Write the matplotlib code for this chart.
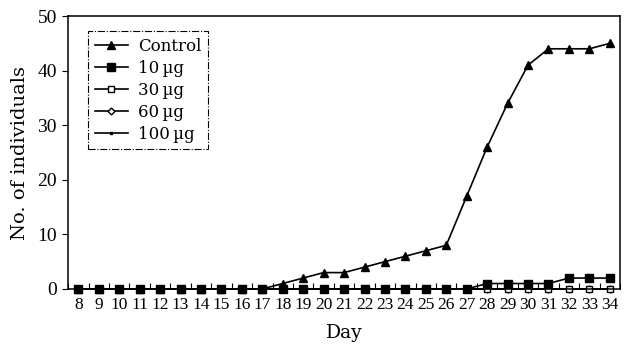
import numpy as np
import matplotlib
matplotlib.use('Agg')
import matplotlib.pyplot as plt

plt.rcParams['font.family'] = ['Liberation Serif', 'DejaVu Serif']

# dados
days = list(range(8, 35))
control = [0, 0, 0, 0, 0, 0, 0, 0, 0, 0, 1, 2, 3, 3, 4, 5, 6, 7, 8,
           17, 26, 34, 41, 44, 44, 44, 45]
ug10 = [0] * 20 + [1, 1, 1, 1, 2, 2, 2]
ug30 = [0] * 27
ug60 = [0] * 27
ug100 = [0] * 27

fig = plt.figure(figsize=(6.25, 3.49), dpi=100)
ax = fig.add_axes([0.109, 0.172, 0.883, 0.782])

kw = dict(color='black', linewidth=1.2, clip_on=False)
ax.plot(days, ug100, marker='s', markersize=2, label='100\u2009µg', **kw)
ax.plot(days, ug60, marker='D', markersize=3.5, markerfacecolor='white', label='60\u2009µg', **kw)
ax.plot(days, ug30, marker='s', markersize=4.5, markerfacecolor='white', label='30\u2009µg', **kw)
ax.plot(days, control, marker='^', markersize=6, label='Control', **kw)
ax.plot(days, ug10, marker='s', markersize=5.5, label='10\u2009µg', **kw)

ax.set_xlim(7.5, 34.5)
ax.set_ylim(0, 50)
ax.set_xticks(days)
ax.set_xticklabels([str(d) for d in days], fontsize=12.5)
ax.set_xticks(np.arange(7.5, 35, 1), minor=True)
ax.tick_params(axis='x', which='major', length=0, pad=6)
ax.tick_params(axis='x', which='minor', direction='in', length=4, width=0.8)
ax.set_yticks([0, 10, 20, 30, 40, 50])
ax.tick_params(axis='y', labelsize=14, length=4, width=0.8, pad=4)

serif = ['DejaVu Serif']
ax.set_xlabel('Day', fontsize=13.5, family=serif, labelpad=8)
ax.set_ylabel('No. of individuals', fontsize=14, family=serif, labelpad=6)

for s in ax.spines.values():
    s.set_linewidth(1.1)

# ordem da legenda igual à figura
h, l = ax.get_legend_handles_labels()
order = ['Control', '10\u2009µg', '30\u2009µg', '60\u2009µg', '100\u2009µg']
hs = [h[l.index(o)] for o in order]
leg = ax.legend(hs, order, loc='upper left', bbox_to_anchor=(0.036, 0.945),
                borderaxespad=0, prop={'family': serif, 'size': 12},
                handlelength=2.0, handletextpad=0.6, labelspacing=0.3,
                fancybox=False, edgecolor='black', framealpha=1)
leg.get_frame().set_linestyle('-.')
leg.get_frame().set_linewidth(0.8)

fig.savefig('out.png', dpi=100)
